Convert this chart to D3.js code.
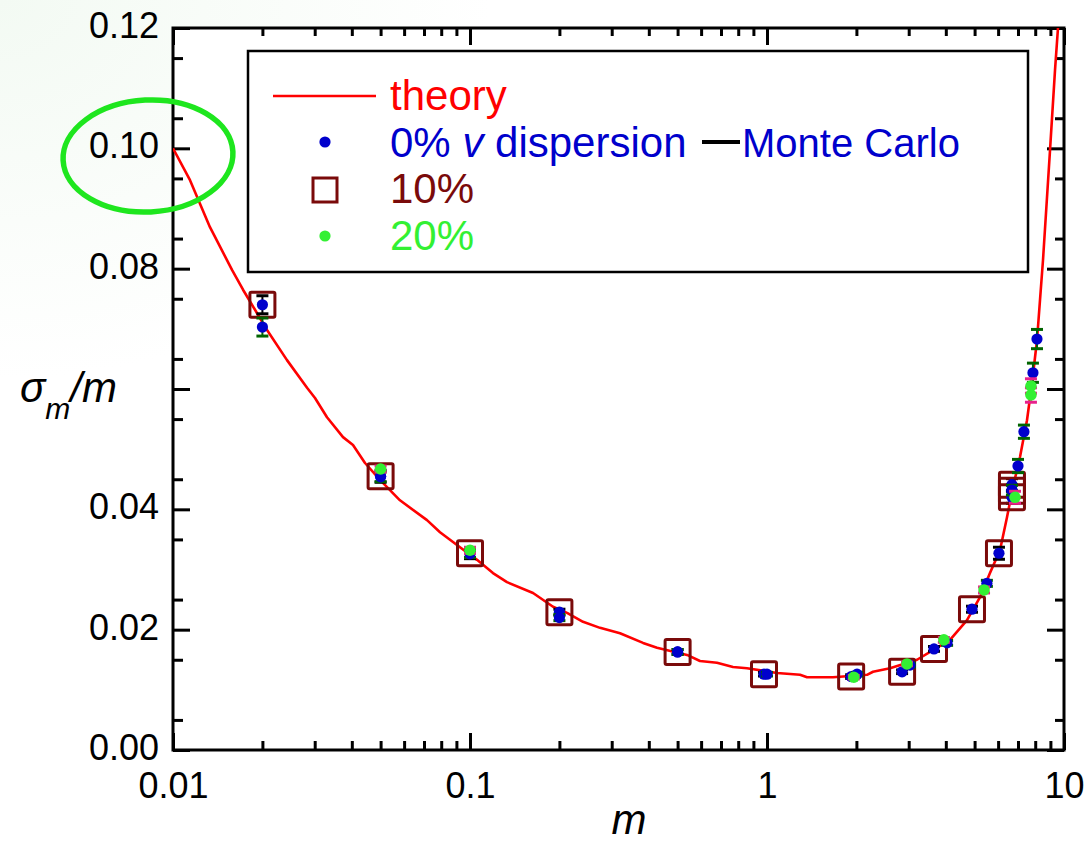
<!DOCTYPE html>
<html><head><meta charset="utf-8">
<script src="https://cdn.jsdelivr.net/npm/d3@7"></script>
<style>
body{margin:0;background:#fff}
svg{display:block}
text{font-family:"Liberation Sans",Arial,Helvetica,sans-serif}
</style>
</head><body>
<svg id="c" width="1089" height="842"></svg>
<script>
// ---------- data ----------
const theoryM = [0.01,0.01141,0.01332,0.0158,0.01721,0.02073,0.0242,0.02827,0.03007,0.033,0.03736,0.04037,0.04431,0.04977,0.0581,0.07165,0.07925,0.09254,0.1056,0.1195,0.1332,0.163,0.1904,0.2122,0.2402,0.274,0.32,0.3825,0.4263,0.5379,0.5949,0.6785,0.7683,0.8565,1.081,1.292,1.364,1.668,2.171,2.275,2.595,3.2,3.623,4.133,4.715,5.215,5.633,6.088,6.428,6.734,7.11,7.506,7.804,8.112,8.303,8.497,8.973,9.327,9.545];
const theoryV = [0.1,0.0947,0.0869,0.0798,0.0765,0.0698,0.0648,0.0602,0.0585,0.0553,0.052,0.0507,0.0477,0.0449,0.0415,0.0382,0.0362,0.0337,0.0316,0.0294,0.0279,0.0261,0.0238,0.0228,0.0213,0.0203,0.0194,0.0178,0.017,0.0158,0.0148,0.0145,0.0138,0.0136,0.0128,0.0125,0.0121,0.0121,0.0125,0.013,0.0136,0.015,0.0166,0.0183,0.0216,0.0254,0.0294,0.0332,0.0387,0.0437,0.0487,0.0548,0.061,0.0681,0.0748,0.0814,0.0997,0.113,0.12];

// 0% v dispersion (blue dots, Monte Carlo)
const zeroM   = [0.02,0.05,0.1,0.2,0.5,1.0,2.01,3.03,4.04,5.5,6.68,7.0,7.33,7.86,8.11];
const zeroV   = [0.0703,0.0454,0.0326,0.0220,0.0163,0.0126,0.0126,0.0141,0.0178,0.0277,0.0432,0.0472,0.0529,0.0627,0.0683];
const zeroErr = [0.0015,0.0008,0.0006,0.0005,0.0004,0.0003,0.0003,0.0003,0.0004,0.0005,0.0008,0.0011,0.0011,0.0016,0.0016];

// 10% (squares)
const tenM   = [0.02,0.05,0.1,0.2,0.5,0.977,1.92,2.85,3.65,4.9,6.04,6.68,6.68,6.68];
const tenV   = [0.0740,0.0455,0.0327,0.0229,0.0163,0.0126,0.0122,0.0130,0.0168,0.0234,0.0327,0.0441,0.0431,0.0420];
const tenErr = [0.0015,0.0010,0.0009,0.0005,0.0004,0.0003,0.0003,0.0003,0.0004,0.0005,0.0010,0.0010,0.0010,0.0010];

// 20% (green dots)
const twentyM   = [0.05,0.1,1.96,2.96,3.94,5.38,6.84,7.74,7.74];
const twentyV   = [0.0467,0.0332,0.0121,0.0143,0.0183,0.0266,0.0420,0.0605,0.0590];
const twentyErr = [0.0005,0.0005,0.0003,0.0003,0.0004,0.0005,0.0010,0.0012,0.0012];

const xTickValues = [0.01,0.1,1,10];
const xTickLabels = ["0.01","0.1","1","10"];
const yTickValues = [0,0.02,0.04,0.06,0.08,0.10,0.12];
const yTickLabels = ["0.00","0.02","0.04","","0.08","0.10","0.12"];

const legendLabels = ["theory","0% ","v"," dispersion","Monte Carlo","10%","20%"];

// ---------- layout ----------
const L=173, R=1064, T=28, B=750;
const svg = d3.select("#c");
const x = d3.scaleLog().domain([0.01,10]).range([L,R]);
const y = d3.scaleLinear().domain([0,0.12]).range([B,T]);

const C = {red:"#ff0000", blue:"#0000cc", dkgreen:"#006400", maroon:"#7a0a0a", green:"#33f033", pink:"#e8208c"};

// faint background tint top-left
const defs = svg.append("defs");
const rg = defs.append("radialGradient").attr("id","bg").attr("cx","0").attr("cy","0").attr("r","0.45");
rg.append("stop").attr("offset","0").attr("stop-color","#f3faf3");
rg.append("stop").attr("offset","1").attr("stop-color","#ffffff");
svg.append("rect").attr("width",1089).attr("height",842).attr("fill","url(#bg)");
svg.append("rect").attr("x",L).attr("y",T).attr("width",R-L).attr("height",B-T).attr("fill","#fff");

defs.append("clipPath").attr("id","clip").append("rect").attr("x",L).attr("y",T).attr("width",R-L).attr("height",B-T);

// minor tick values
const xMinor = [];
[0.01,0.1,1].forEach(d=>{for(let k=2;k<=9;k++) xMinor.push(d*k);});
const yMinor = d3.range(1,24,2).map(i=>i*0.005);

function styleAxis(g){
  g.select(".domain").remove();
  g.selectAll(".tick line").attr("stroke","#000").attr("stroke-width",3);
  g.selectAll("text").attr("fill","#000").attr("font-size",36);
}

// bottom
svg.append("g").attr("transform",`translate(0,${B})`)
  .call(d3.axisBottom(x).tickValues(xTickValues).tickSize(-17).tickPadding(22).tickFormat((d,i)=>xTickLabels[i]))
  .call(styleAxis);
svg.append("g").attr("transform",`translate(0,${B})`)
  .call(d3.axisBottom(x).tickValues(xMinor).tickSize(-9).tickFormat(""))
  .call(styleAxis);
// top
svg.append("g").attr("transform",`translate(0,${T})`)
  .call(d3.axisTop(x).tickValues(xTickValues).tickSize(-17).tickFormat(""))
  .call(styleAxis);
svg.append("g").attr("transform",`translate(0,${T})`)
  .call(d3.axisTop(x).tickValues(xMinor).tickSize(-8).tickFormat(""))
  .call(styleAxis);
// left
svg.append("g").attr("transform",`translate(${L},0)`)
  .call(d3.axisLeft(y).tickValues(yTickValues).tickSize(-17).tickPadding(14).tickFormat((d,i)=>yTickLabels[i]))
  .call(styleAxis).call(g=>g.selectAll("text").attr("dy","0.26em"));
svg.append("g").attr("transform",`translate(${L},0)`)
  .call(d3.axisLeft(y).tickValues(yMinor).tickSize(-10).tickFormat(""))
  .call(styleAxis);
// right
svg.append("g").attr("transform",`translate(${R},0)`)
  .call(d3.axisRight(y).tickValues(yTickValues).tickSize(-17).tickFormat(""))
  .call(styleAxis);
svg.append("g").attr("transform",`translate(${R},0)`)
  .call(d3.axisRight(y).tickValues(yMinor).tickSize(-9).tickFormat(""))
  .call(styleAxis);

// frame
svg.append("rect").attr("x",L).attr("y",T).attr("width",R-L).attr("height",B-T)
  .attr("fill","none").attr("stroke","#000").attr("stroke-width",3);

// theory line
const theory = theoryM.map((m,i)=>({m,v:theoryV[i]}));
svg.append("path").datum(theory).attr("clip-path","url(#clip)")
  .attr("fill","none").attr("stroke",C.red).attr("stroke-width",2.6).attr("stroke-linejoin","round")
  .attr("d",d3.line().x(d=>x(d.m)).y(d=>y(d.v)));

function mk(M,V,E){return M.map((m,i)=>({m,v:V[i],e:E[i]}));}
const zero = mk(zeroM,zeroV,zeroErr), ten = mk(tenM,tenV,tenErr), twenty = mk(twentyM,twentyV,twentyErr);

function errorBars(data,color){
  const g = svg.append("g").attr("stroke",color).attr("stroke-width",3);
  data.forEach(d=>{
    const cx=x(d.m), y1=y(d.v-d.e), y2=y(d.v+d.e);
    g.append("line").attr("x1",cx).attr("x2",cx).attr("y1",y1).attr("y2",y2).attr("stroke-width",2);
    g.append("line").attr("x1",cx-6).attr("x2",cx+6).attr("y1",y1).attr("y2",y1);
    g.append("line").attr("x1",cx-6).attr("x2",cx+6).attr("y1",y2).attr("y2",y2);
  });
}
function dots(data,color,r){
  svg.append("g").selectAll("circle").data(data).join("circle")
    .attr("cx",d=>x(d.m)).attr("cy",d=>y(d.v)).attr("r",r).attr("fill",color);
}

// 10% series: squares with blue centre
errorBars(ten,"#000");
svg.append("g").selectAll("rect").data(ten).join("rect")
  .attr("x",d=>x(d.m)-12.5).attr("y",d=>y(d.v)-12.5).attr("width",25).attr("height",25)
  .attr("fill","none").attr("stroke",C.maroon).attr("stroke-width",3).attr("rx",1.5);
dots(ten,C.blue,5.6);
// 0%
errorBars(zero,C.dkgreen);
dots(zero,C.blue,5.6);
// 20%
errorBars(twenty,C.pink);
dots(twenty,C.green,5.8);

// ---------- legend ----------
const lg = svg.append("g");
lg.append("rect").attr("x",248).attr("y",51).attr("width",780).attr("height",221)
  .attr("fill","#fff").attr("stroke","#000").attr("stroke-width",2.5);
const FS = 42;
lg.append("line").attr("x1",273).attr("x2",376).attr("y1",96).attr("y2",96).attr("stroke",C.red).attr("stroke-width",2.6);
lg.append("text").attr("x",390).attr("y",110).attr("fill",C.red).attr("font-size",FS).text(legendLabels[0]);
lg.append("circle").attr("cx",325).attr("cy",142).attr("r",5.6).attr("fill",C.blue);
const t1 = lg.append("text").attr("x",390).attr("y",157).attr("fill",C.blue).attr("font-size",FS);
t1.append("tspan").text(legendLabels[1]);
t1.append("tspan").attr("font-style","italic").text(legendLabels[2]);
t1.append("tspan").text(legendLabels[3]);
lg.append("line").attr("x1",702).attr("x2",740).attr("y1",142).attr("y2",142).attr("stroke","#000").attr("stroke-width",4);
lg.append("text").attr("x",742).attr("y",157).attr("fill",C.blue).attr("font-size",40).text(legendLabels[4]);
lg.append("rect").attr("x",313).attr("y",178).attr("width",24).attr("height",24).attr("fill","none").attr("stroke",C.maroon).attr("stroke-width",3);
lg.append("text").attr("x",390).attr("y",203).attr("fill",C.maroon).attr("font-size",FS).text(legendLabels[5]);
lg.append("circle").attr("cx",325).attr("cy",236).attr("r",5.6).attr("fill",C.green);
lg.append("text").attr("x",390).attr("y",250).attr("fill",C.green).attr("font-size",FS).text(legendLabels[6]);

// ---------- axis titles ----------
svg.append("text").attr("x",629).attr("y",834).attr("text-anchor","middle")
  .attr("font-size",42).attr("font-style","italic").text("m");
const yl = svg.append("text").attr("x",20).attr("y",402).attr("font-size",42).attr("font-style","italic");
yl.append("tspan").text("σ");
yl.append("tspan").attr("font-size",30).attr("dy",17).text("m");
yl.append("tspan").attr("dy",-17).text("/m");

// ---------- hand-drawn annotation around 0.10 ----------
svg.append("ellipse").attr("cx",148).attr("cy",156).attr("rx",85).attr("ry",56)
  .attr("transform","rotate(-3,148,156)")
  .attr("fill","none").attr("stroke","#1ee61e").attr("stroke-width",5.5);
</script>
</body></html>
